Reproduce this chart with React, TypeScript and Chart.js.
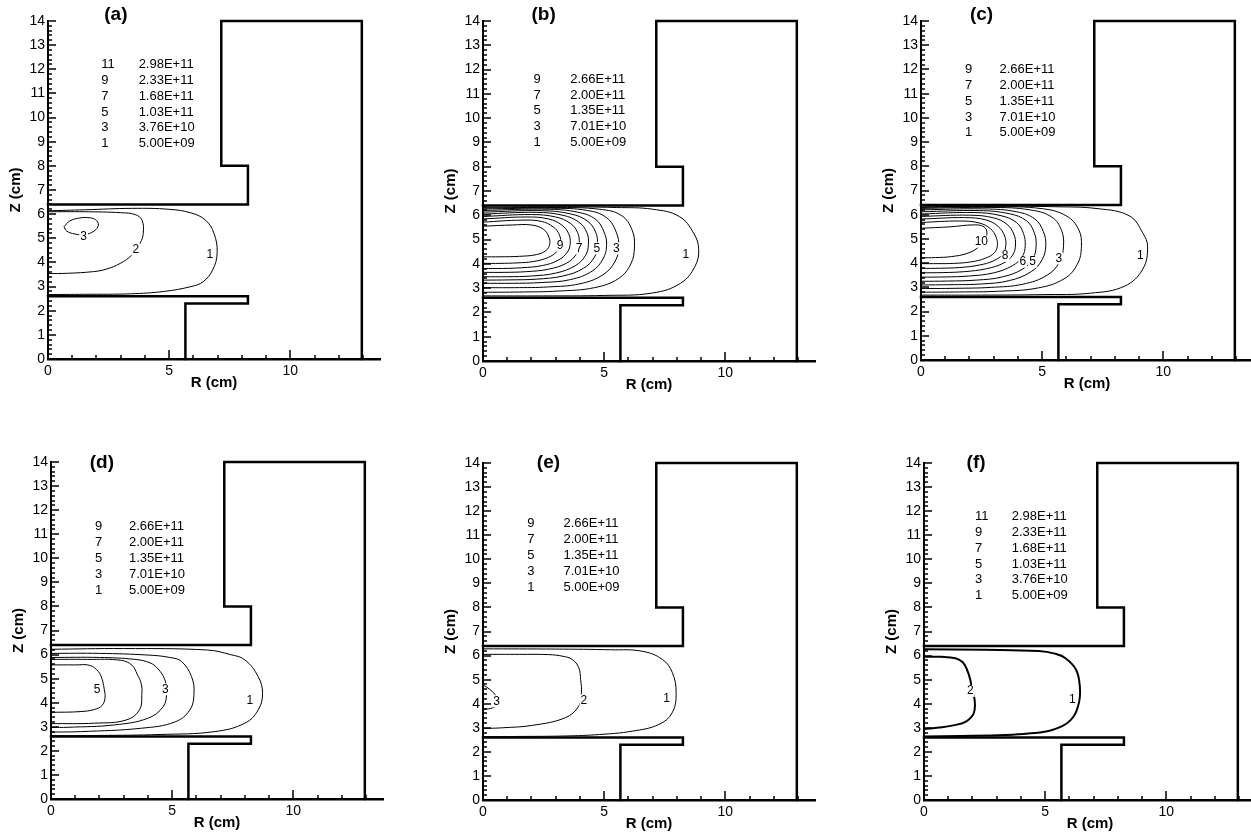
import React, { useEffect, useRef } from "react";
import { Chart, registerables } from "chart.js";

Chart.register(...registerables);

const FONT = "'Liberation Sans', Arial, Helvetica, sans-serif";

// ---- axes ----
const R_MAX = 13.7;
const Z_MAX = 14;
const X_TICK_LABELS = [0, 5, 10];
const X_MINOR_TICKS = [1, 2, 3, 4, 6, 7, 8, 9, 11, 12, 13];
const Y_MINOR_STEP = 0.2;

// ---- reactor geometry (cm) ----
const UPPER_ELECTRODE: number[][] = [[0, 6.4], [8.25, 6.4], [8.25, 8.0], [7.15, 8.0], [7.15, 14], [12.95, 14], [12.95, 0]];
const LOWER_ELECTRODE: number[][] = [[0, 2.6], [8.25, 2.6], [8.25, 2.3], [5.67, 2.3], [5.67, 0]];

// ---- contour levels legends ----
const LEGEND_SIX: string[][] = [["11", "2.98E+11"], ["9", "2.33E+11"], ["7", "1.68E+11"], ["5", "1.03E+11"], ["3", "3.76E+10"], ["1", "5.00E+09"]];
const LEGEND_FIVE: string[][] = [["9", "2.66E+11"], ["7", "2.00E+11"], ["5", "1.35E+11"], ["3", "7.01E+10"], ["1", "5.00E+09"]];

// ---- contour lines (R, Z) ----
const CONTOURS_A: number[][][] = [
  [[0, 6.14], [1.5, 6.18], [3.5, 6.24], [5, 6.2], [5.9, 6.05], [6.5, 5.75], [6.85, 5.2], [6.98, 4.4], [6.8, 3.7], [6.4, 3.2], [5.9, 3.0], [4.8, 2.8], [3.4, 2.7], [1.5, 2.68], [0, 2.67]],
  [[0, 6.1], [1.5, 6.1], [3.0, 6.06], [3.6, 5.98], [3.88, 5.75], [3.93, 5.2], [3.8, 4.8], [3.45, 4.3], [2.98, 3.96], [2.4, 3.72], [1.88, 3.62], [0.8, 3.55], [0, 3.54]],
  [[0.66, 5.48], [0.9, 5.72], [1.3, 5.84], [1.6, 5.86], [1.95, 5.78], [2.08, 5.55], [1.9, 5.3], [1.5, 5.15], [1.1, 5.18], [0.77, 5.3], [0.66, 5.48]],
];
const CONTOURS_B: number[][][] = [
  [[0, 6.33], [3, 6.35], [5.5, 6.32], [7.0, 6.25], [8.1, 5.95], [8.7, 5.25], [8.9, 4.6], [8.75, 3.9], [8.15, 3.2], [7.0, 2.8], [5.0, 2.7], [2.5, 2.68], [0, 2.68]],
  [[0, 6.3], [3, 6.32], [4.8, 6.25], [5.7, 6.0], [6.15, 5.4], [6.25, 4.7], [6.1, 4.0], [5.6, 3.4], [4.6, 3.02], [3.1, 2.88], [1.5, 2.84], [0, 2.83]],
  [[0, 6.26], [2.8, 6.29], [4.3, 6.2], [5.1, 5.9], [5.5, 5.3], [5.6, 4.7], [5.45, 4.1], [4.95, 3.55], [4.0, 3.18], [2.7, 3.05], [1.3, 3.02], [0, 3.02]],
  [[0, 6.2], [2.6, 6.25], [3.9, 6.13], [4.65, 5.83], [5.0, 5.3], [5.1, 4.75], [4.95, 4.2], [4.5, 3.7], [3.6, 3.35], [2.4, 3.23], [1.2, 3.2], [0, 3.2]],
  [[0, 6.13], [2.4, 6.19], [3.6, 6.06], [4.3, 5.77], [4.65, 5.3], [4.72, 4.78], [4.6, 4.28], [4.15, 3.82], [3.3, 3.5], [2.2, 3.37], [1.1, 3.34], [0, 3.33]],
  [[0, 6.05], [2.2, 6.12], [3.3, 6.0], [3.95, 5.72], [4.28, 5.3], [4.35, 4.8], [4.22, 4.33], [3.8, 3.92], [3.0, 3.62], [2.0, 3.5], [1.0, 3.47], [0, 3.47]],
  [[0, 5.95], [2.0, 6.03], [3.0, 5.93], [3.6, 5.67], [3.9, 5.3], [3.97, 4.82], [3.85, 4.4], [3.45, 4.03], [2.7, 3.78], [1.8, 3.68], [0.9, 3.65], [0, 3.65]],
  [[0, 5.85], [1.8, 5.93], [2.7, 5.85], [3.25, 5.6], [3.53, 5.25], [3.6, 4.85], [3.48, 4.48], [3.1, 4.15], [2.45, 3.93], [1.6, 3.84], [0.8, 3.81], [0, 3.81]],
  [[0, 5.72], [1.6, 5.8], [2.4, 5.75], [2.9, 5.52], [3.15, 5.2], [3.2, 4.85], [3.08, 4.54], [2.7, 4.27], [2.1, 4.1], [1.4, 4.04], [0.7, 4.02], [0, 4.02]],
  [[0, 5.55], [1.2, 5.6], [2.0, 5.6], [2.5, 5.42], [2.72, 5.1], [2.75, 4.8], [2.6, 4.55], [2.2, 4.38], [1.5, 4.31], [0.7, 4.29], [0, 4.29]],
];
const CONTOURS_C: number[][][] = [
  [[0, 6.33], [3, 6.35], [5.5, 6.33], [7.3, 6.25], [8.6, 5.95], [9.15, 5.25], [9.35, 4.68], [9.15, 3.75], [8.4, 3.05], [7.0, 2.76], [5.0, 2.7], [2.5, 2.68], [0, 2.68]],
  [[0, 6.3], [3, 6.33], [5.0, 6.25], [6.0, 5.95], [6.5, 5.4], [6.62, 4.7], [6.45, 3.95], [5.9, 3.35], [4.8, 2.97], [3.2, 2.84], [1.6, 2.81], [0, 2.8]],
  [[0, 6.26], [2.9, 6.3], [4.5, 6.2], [5.4, 5.9], [5.8, 5.35], [5.88, 4.7], [5.72, 4.05], [5.2, 3.5], [4.2, 3.13], [2.9, 3.0], [1.4, 2.96], [0, 2.95]],
  [[0, 6.2], [2.6, 6.24], [3.95, 6.12], [4.7, 5.82], [5.05, 5.3], [5.15, 4.72], [5.0, 4.15], [4.55, 3.65], [3.65, 3.28], [2.5, 3.14], [1.2, 3.11], [0, 3.1]],
  [[0, 6.12], [2.4, 6.17], [3.65, 6.04], [4.35, 5.75], [4.67, 5.27], [4.75, 4.72], [4.62, 4.2], [4.2, 3.76], [3.35, 3.43], [2.3, 3.3], [1.1, 3.26], [0, 3.25]],
  [[0, 6.03], [2.2, 6.09], [3.3, 5.96], [3.95, 5.67], [4.23, 5.22], [4.3, 4.72], [4.18, 4.27], [3.78, 3.9], [3.0, 3.6], [2.0, 3.47], [1.0, 3.43], [0, 3.42]],
  [[0, 5.93], [2.0, 5.98], [3.0, 5.87], [3.55, 5.6], [3.83, 5.2], [3.9, 4.75], [3.78, 4.33], [3.4, 4.0], [2.7, 3.77], [1.8, 3.65], [0.9, 3.61], [0, 3.6]],
  [[0, 5.82], [1.8, 5.88], [2.7, 5.78], [3.2, 5.5], [3.45, 5.12], [3.5, 4.72], [3.38, 4.38], [3.0, 4.1], [2.4, 3.92], [1.6, 3.82], [0.8, 3.79], [0, 3.78]],
  [[0, 5.68], [1.6, 5.74], [2.4, 5.66], [2.87, 5.42], [3.1, 5.07], [3.15, 4.72], [3.03, 4.43], [2.65, 4.2], [2.05, 4.05], [1.35, 3.99], [0.7, 3.98], [0, 3.98]],
  [[0, 5.44], [1.2, 5.5], [2.2, 5.58], [2.6, 5.5], [2.72, 5.25], [2.62, 4.95], [2.32, 4.62], [1.9, 4.4], [1.25, 4.27], [0.6, 4.23], [0, 4.22]],
];
const CONTOURS_D: number[][][] = [
  [[0, 6.22], [3, 6.25], [6.45, 6.19], [7.4, 6.0], [8.0, 5.78], [8.55, 5.08], [8.73, 4.39], [8.55, 3.7], [8.0, 3.15], [6.76, 2.8], [4.5, 2.68], [2, 2.64], [0, 2.63]],
  [[0, 6.05], [2, 6.05], [4.0, 5.98], [4.9, 5.88], [5.39, 5.71], [5.8, 5.08], [5.9, 4.39], [5.73, 3.7], [5.11, 3.2], [3.73, 2.94], [1.25, 2.8], [0, 2.78]],
  [[0, 5.88], [2, 5.88], [3.46, 5.8], [4.1, 5.65], [4.42, 5.4], [4.7, 4.95], [4.77, 4.39], [4.63, 3.84], [4.01, 3.36], [2.63, 3.08], [0.7, 2.98], [0, 2.97]],
  [[0, 5.8], [1.5, 5.8], [2.9, 5.76], [3.35, 5.55], [3.55, 5.2], [3.72, 4.8], [3.75, 4.39], [3.65, 3.7], [3.1, 3.28], [1.8, 3.15], [0, 3.13]],
  [[0, 5.57], [1.0, 5.57], [1.6, 5.55], [1.95, 5.3], [2.1, 5.0], [2.19, 4.6], [2.23, 4.2], [2.1, 3.88], [1.8, 3.72], [1.2, 3.63], [0, 3.6]],
];
const CONTOURS_E: number[][][] = [
  [[0, 6.28], [3, 6.27], [5.3, 6.24], [6.57, 6.18], [7.4, 5.84], [7.81, 5.3], [7.97, 4.45], [7.81, 3.63], [7.26, 3.14], [6.16, 2.86], [4.8, 2.72], [3.4, 2.66], [1.5, 2.64], [0, 2.63]],
  [[0, 6.05], [1.5, 6.05], [2.71, 6.04], [3.3, 5.97], [3.68, 5.84], [3.95, 5.5], [4.03, 5.0], [4.06, 4.45], [3.95, 3.9], [3.4, 3.42], [2.03, 3.1], [0.8, 3.0], [0, 2.97]],
  [[0, 4.78], [0.25, 4.62], [0.48, 4.4], [0.62, 4.15], [0.55, 3.92], [0.3, 3.8], [0, 3.77]],
];
const CONTOURS_F: number[][][] = [
  [[0, 6.26], [2.5, 6.24], [4.74, 6.19], [5.4, 6.08], [5.84, 5.89], [6.28, 5.4], [6.43, 4.71], [6.39, 4.02], [6.05, 3.32], [5.29, 2.91], [4.3, 2.76], [3.36, 2.7], [1.5, 2.66], [0, 2.64]],
  [[0, 5.95], [0.7, 5.95], [1.3, 5.89], [1.6, 5.72], [1.78, 5.4], [1.91, 5.0], [1.98, 4.6], [2.09, 4.15], [2.05, 3.6], [1.71, 3.25], [1.2, 3.1], [0.74, 3.02], [0, 2.95]],
];

// ---- contour labels [text, R, Z] ----
const LABELS_A: (string | number)[][] = [["1", 6.68, 4.3], ["2", 3.62, 4.54], ["3", 1.47, 5.07]];
const LABELS_B: (string | number)[][] = [["9", 3.18, 4.75], ["7", 3.97, 4.64], ["5", 4.7, 4.64], ["3", 5.5, 4.64], ["1", 8.37, 4.39]];
const LABELS_C: (string | number)[][] = [["10", 2.49, 4.89], ["8", 3.47, 4.3], ["6", 4.2, 4.06], ["5", 4.6, 4.06], ["3", 5.69, 4.2], ["1", 9.05, 4.3]];
const LABELS_D: (string | number)[][] = [["5", 1.9, 4.56], ["3", 4.72, 4.56], ["1", 8.2, 4.08]];
const LABELS_E: (string | number)[][] = [["3", 0.56, 4.1], ["2", 4.16, 4.14], ["1", 7.58, 4.22]];
const LABELS_F: (string | number)[][] = [["2", 1.91, 4.53], ["1", 6.12, 4.15]];

type PanelCfg = {
  title: string;
  x0: number; yTop: number; yBot: number;
  titleAt: number[];
  contours: number[][][];
  labels: (string | number)[][];
  legend: string[][];
  legendAt: { num: number; val: number; top: number; step: number };
  lw: number;
};

const PANELS: PanelCfg[] = [
  { title: "(a)", x0: 48, yTop: 21, yBot: 359, titleAt: [2.8, 14.25], contours: CONTOURS_A, labels: LABELS_A, legend: LEGEND_SIX, legendAt: { num: 2.2, val: 3.74, top: 12.22, step: 0.662 }, lw: 1 },
  { title: "(b)", x0: 483, yTop: 21, yBot: 361, titleAt: [2.5, 14.25], contours: CONTOURS_B, labels: LABELS_B, legend: LEGEND_FIVE, legendAt: { num: 2.08, val: 3.6, top: 11.61, step: 0.655 }, lw: 1 },
  { title: "(c)", x0: 921, yTop: 21, yBot: 360, titleAt: [2.5, 14.25], contours: CONTOURS_C, labels: LABELS_C, legend: LEGEND_FIVE, legendAt: { num: 1.82, val: 3.24, top: 11.98, step: 0.65 }, lw: 1 },
  { title: "(d)", x0: 51, yTop: 462, yBot: 799, titleAt: [2.1, 13.95], contours: CONTOURS_D, labels: LABELS_D, legend: LEGEND_FIVE, legendAt: { num: 1.82, val: 3.22, top: 11.31, step: 0.658 }, lw: 1 },
  { title: "(e)", x0: 483, yTop: 463, yBot: 800, titleAt: [2.7, 14.0], contours: CONTOURS_E, labels: LABELS_E, legend: LEGEND_FIVE, legendAt: { num: 1.83, val: 3.32, top: 11.47, step: 0.657 }, lw: 1 },
  { title: "(f)", x0: 924, yTop: 463, yBot: 800, titleAt: [2.15, 14.0], contours: CONTOURS_F, labels: LABELS_F, legend: LEGEND_SIX, legendAt: { num: 2.1, val: 3.62, top: 11.77, step: 0.656 }, lw: 2 },
];

const AXIS_W = 48;
const PAD_TOP = 30;
const X_AXIS_H = 45;
const PAD_RIGHT = 12;
const CANVAS_W = AXIS_W + 332 + PAD_RIGHT;

const toXY = (pts: number[][]) => pts.map(([x, y]) => ({ x, y }));

function makeTextPlugin(p: PanelCfg) {
  return {
    id: "panelText",
    afterDraw(chart: any) {
      const ctx: CanvasRenderingContext2D = chart.ctx;
      const area = chart.chartArea;
      const xs = chart.scales.x;
      const ys = chart.scales.y;
      ctx.save();
      ctx.globalAlpha = 1;
      ctx.setLineDash([]);
      ctx.strokeStyle = "#000000";
      ctx.lineWidth = 1.5;
      // y ticks (pointing inward)
      ctx.beginPath();
      for (let i = 0; i <= Math.round(Z_MAX / Y_MINOR_STEP); i++) {
        const v = i * Y_MINOR_STEP;
        const isMajor = i % 5 === 0;
        const py = Math.round(ys.getPixelForValue(v));
        ctx.moveTo(area.left, py);
        ctx.lineTo(area.left + (isMajor ? 8 : 4), py);
      }
      // x ticks (pointing inward)
      X_MINOR_TICKS.forEach((v) => {
        const px = Math.round(xs.getPixelForValue(v));
        ctx.moveTo(px, area.bottom);
        ctx.lineTo(px, area.bottom - 4);
      });
      X_TICK_LABELS.forEach((v) => {
        const px = Math.round(xs.getPixelForValue(v));
        ctx.moveTo(px, area.bottom);
        ctx.lineTo(px, area.bottom - 9);
      });
      ctx.stroke();

      // contour labels
      ctx.font = `12px ${FONT}`;
      ctx.textAlign = "center";
      ctx.textBaseline = "middle";
      p.labels.forEach(([t, r, z]) => {
        const px = xs.getPixelForValue(r as number);
        const py = ys.getPixelForValue(z as number);
        const w = ctx.measureText(String(t)).width;
        ctx.fillStyle = "#fff";
        ctx.fillRect(px - w / 2 - 1, py - 6, w + 2, 12);
        ctx.fillStyle = "#000";
        ctx.fillText(String(t), px, py);
      });

      // level legend
      ctx.font = `13px ${FONT}`;
      ctx.textAlign = "left";
      p.legend.forEach(([n, val], i) => {
        const py = ys.getPixelForValue(p.legendAt.top - i * p.legendAt.step);
        ctx.fillText(n, xs.getPixelForValue(p.legendAt.num), py);
        ctx.fillText(val, xs.getPixelForValue(p.legendAt.val), py);
      });

      // panel title
      ctx.font = `bold 19px ${FONT}`;
      ctx.textAlign = "center";
      ctx.fillText(p.title, xs.getPixelForValue(p.titleAt[0]), ys.getPixelForValue(p.titleAt[1]));
      ctx.restore();
    },
  };
}

function Panel({ cfg }: { cfg: PanelCfg }) {
  const ref = useRef<HTMLCanvasElement>(null);
  const H = PAD_TOP + (cfg.yBot - cfg.yTop) + X_AXIS_H;

  useEffect(() => {
    const geom = [UPPER_ELECTRODE, LOWER_ELECTRODE].map((g) => ({
      data: toXY(g),
      showLine: true,
      borderColor: "#000",
      borderWidth: 2.5,
      pointRadius: 0,
      tension: 0,
      borderJoinStyle: "miter" as const,
      borderCapStyle: "square" as const,
      clip: 4,
    }));
    const lines = cfg.contours.map((c) => ({
      data: toXY(c),
      showLine: true,
      borderColor: "#000",
      borderWidth: cfg.lw,
      pointRadius: 0,
      tension: 0.4,
    }));
    const chart = new Chart(ref.current as HTMLCanvasElement, {
      type: "scatter",
      data: { datasets: [...geom, ...lines] as any },
      options: {
        animation: false,
        responsive: false,
        events: [],
        layout: { padding: { top: PAD_TOP, right: PAD_RIGHT, left: 0, bottom: 0 } },
        plugins: { legend: { display: false }, tooltip: { enabled: false } },
        scales: {
          x: {
            type: "linear",
            min: 0,
            max: R_MAX,
            afterBuildTicks: (s: any) => {
              s.ticks = X_TICK_LABELS.map((v) => ({ value: v }));
            },
            afterFit: (s: any) => {
              s.height = X_AXIS_H;
            },
            grid: { display: false, drawTicks: false },
            border: { display: true, width: 2.5, color: "#000" },
            ticks: { color: "#000", font: { family: FONT, size: 14 }, padding: 4, maxRotation: 0, autoSkip: false },
            title: { display: true, text: "R (cm)", color: "#000", font: { family: FONT, size: 15, weight: "bold" }, padding: { top: 0, bottom: 12 } },
          },
          y: {
            type: "linear",
            min: 0,
            max: Z_MAX,
            afterFit: (s: any) => {
              s.width = AXIS_W;
            },
            grid: { display: false, drawTicks: false },
            border: { display: true, width: 2, color: "#000" },
            ticks: { stepSize: 1, color: "#000", font: { family: FONT, size: 14 }, padding: 3, autoSkip: false },
            title: { display: true, text: "Z (cm)", color: "#000", font: { family: FONT, size: 15, weight: "bold" }, padding: { top: 7, bottom: 0 } },
          },
        },
      } as any,
      plugins: [makeTextPlugin(cfg)],
    });
    return () => chart.destroy();
  }, [cfg]);

  return (
    <canvas
      ref={ref}
      width={CANVAS_W}
      height={H}
      style={{ position: "absolute", left: cfg.x0 - AXIS_W, top: cfg.yTop - PAD_TOP, width: CANVAS_W, height: H }}
    />
  );
}

export default function App() {
  return (
    <div style={{ position: "absolute", left: 0, top: 0, width: 1251, height: 832, background: "#fff", overflow: "hidden" }}>
      {PANELS.map((p) => (
        <Panel key={p.title} cfg={p} />
      ))}
    </div>
  );
}
